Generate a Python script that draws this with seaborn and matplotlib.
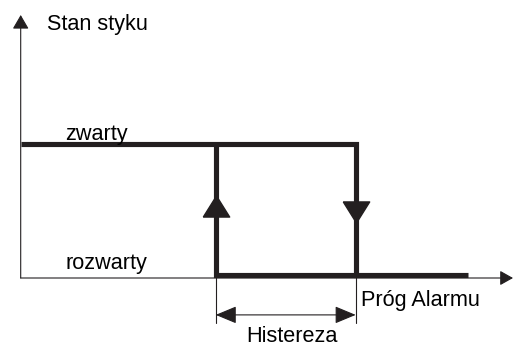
import pandas as pd
import numpy as np
import matplotlib
matplotlib.use('Agg')
import matplotlib.pyplot as plt
import seaborn as sns

# contact states and their levels on the vertical axis
state_labels = ['rozwarty', 'zwarty']
state_levels = [0, 1]

# switching points on the horizontal axis
prog_alarmu = 3.35        # alarm threshold (switch to open)
histereza = 1.4           # hysteresis width
prog_powrotu = prog_alarmu - histereza   # switch back to closed
x_start, x_end = 0.0, 4.47

# where the direction arrows sit on the two vertical edges
arrow_up_level = 0.53
arrow_down_level = 0.478

lo, hi = state_levels

# hysteresis loop as two polylines
path = pd.DataFrame({
    'x': [x_start, prog_alarmu, prog_alarmu, x_end,
          prog_powrotu, prog_powrotu, prog_alarmu],
    'y': [hi, hi, lo, lo, hi, lo, lo],
    'seg': [0, 0, 0, 0, 1, 1, 1],
})

sns.set_theme(style='white')
plt.rcParams['font.family'] = ['Liberation Sans', 'DejaVu Sans']

ink = '#231f20'

fig = plt.figure(figsize=(5.13, 3.52), dpi=100)
ax = fig.add_axes([20.7 / 513, (352 - 278) / 352, (513 - 20.7) / 513, (278 - 15) / 352])
ax.set_xlim(0, 4.923)
ax.set_ylim(-0.0224, 1.985)
ax.axis('off')

# axes with arrow heads
ax.annotate('', xy=(0, 1), xytext=(0, 0), xycoords='axes fraction',
            arrowprops=dict(arrowstyle='-|>,head_length=0.86,head_width=0.5',
                            color=ink, lw=0.8, shrinkA=0, shrinkB=0, mutation_scale=10))
ax.annotate('', xy=(1, 0), xytext=(0, 0), xycoords='axes fraction',
            arrowprops=dict(arrowstyle='-|>,head_length=0.8,head_width=0.45',
                            color=ink, lw=0.8, shrinkA=0, shrinkB=0, mutation_scale=10))

sns.lineplot(data=path, x='x', y='y', units='seg', estimator=None, sort=False,
             color=ink, lw=3.7, ax=ax, solid_joinstyle='miter',
             solid_capstyle='butt', clip_on=False)

tri = [(-1, -0.8), (1, -0.8), (0, 0.8), (-1, -0.8)]
tri_down = [(-1, 0.8), (1, 0.8), (0, -0.8), (-1, 0.8)]
ax.plot([prog_powrotu], [arrow_up_level], marker=tri, ms=19, color=ink, ls='none')
ax.plot([prog_alarmu], [arrow_down_level], marker=tri_down, ms=19, color=ink, ls='none')

# hysteresis dimension
dim_y = -0.304
for xv in [prog_powrotu, prog_alarmu]:
    ax.plot([xv, xv], [lo, -0.366], color=ink, lw=0.8, clip_on=False)
ax.annotate('', xy=(prog_alarmu, dim_y), xytext=(prog_powrotu, dim_y),
            arrowprops=dict(arrowstyle='<|-|>,head_length=1.3,head_width=0.54',
                            color=ink, lw=0.8, shrinkA=0, shrinkB=0, mutation_scale=10),
            annotation_clip=False)

fs = 15.6
ax.text(0.26, 1.873, 'Stan styku', fontsize=fs, color='black', va='baseline', ha='left')
ax.text(0.445, hi + 0.03, state_labels[1], fontsize=fs, color='black', va='baseline', ha='left')
ax.text(0.445, lo + 0.045, state_labels[0], fontsize=fs, color='black', va='baseline', ha='left')
ax.text(prog_alarmu + 0.055, -0.239, 'Próg Alarmu', fontsize=fs, color='black',
        va='baseline', ha='left')
ax.text(2.257, -0.508, 'Histereza', fontsize=fs, color='black', va='baseline', ha='left')

fig.savefig('out.png', dpi=100)
